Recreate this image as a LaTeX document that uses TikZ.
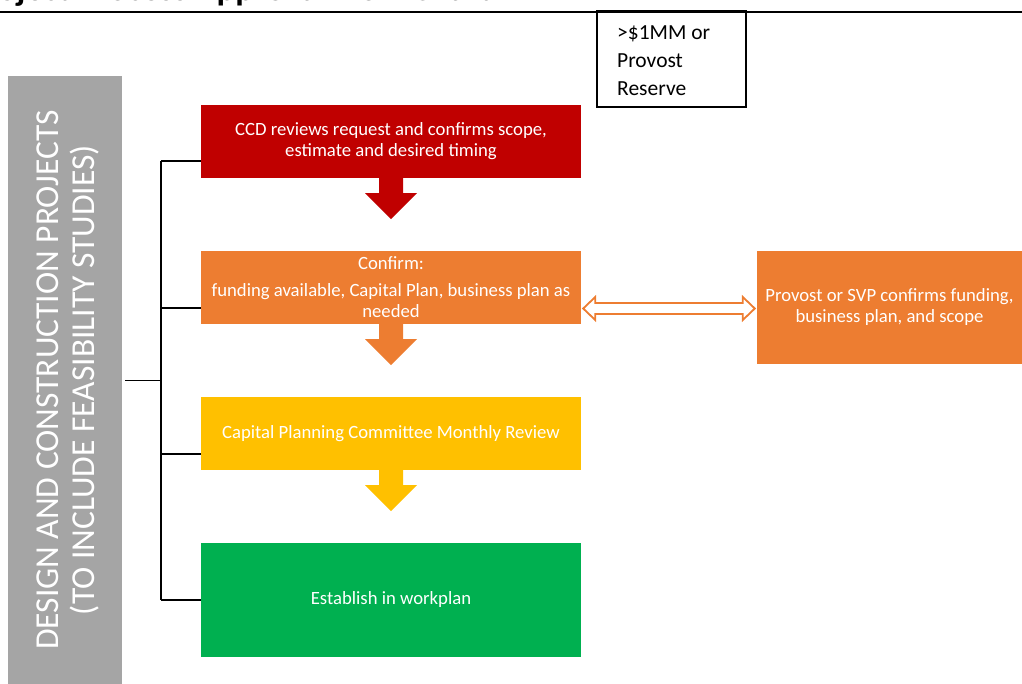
\documentclass[tikz,border=0pt]{standalone}
\usepackage{fontspec}
\setmainfont{Carlito}
\usetikzlibrary{calc}
\definecolor{ccdred}{HTML}{C00000}
\definecolor{orng}{HTML}{ED7D31}
\definecolor{yllw}{HTML}{FFC000}
\definecolor{grn}{HTML}{00B050}
\definecolor{gry}{HTML}{A5A5A5}
\begin{document}
\begin{tikzpicture}[x=1pt,y=-1pt,
  stepbox/.style={inner sep=0pt, minimum width=380pt, text=white, align=center,
    font=\fontsize{18.7}{21}\selectfont},
  link/.style={draw=black, line width=1.4pt},
  blockarrow/.style={fill=#1, draw=none}]
\useasboundingbox (0,0) rectangle (1022,683);
\clip (0,0) rectangle (1022,683);
% title (clipped at top)
\node[anchor=base west, inner sep=0pt, font=\bfseries\fontsize{35}{40}\selectfont] (title) at (-33,0) {Project Process Approval Flow Chart};
\draw[line width=2pt] (0,11.5) coordinate (tl) -- (1022,11.5) coordinate (tr);
% threshold box
\node[draw=black, line width=1.5pt, inner sep=0pt, minimum width=149pt, minimum height=96pt] (thr) at (671.5,59) {};
\node[anchor=west, align=left, inner sep=0pt, font=\fontsize{21.5}{28}\selectfont] (thrtext) at (617,61) {>\$1MM or\\Provost\\Reserve};
% side bar
\node[fill=gry, inner sep=0pt, minimum width=114pt, minimum height=620pt] (side) at (65,386) {};
\node[rotate=90, text=white, align=center, inner sep=0pt, font=\fontsize{33.5}{36}\selectfont] (sidetext) at (68,380) {DESIGN AND CONSTRUCTION PROJECTS\\(TO INCLUDE FEASIBILITY STUDIES)};
% step boxes
\node[stepbox, fill=ccdred, minimum height=73pt] (ccd) at (391,141.5) {CCD reviews request and confirms scope,\\estimate and desired timing};
\node[stepbox, fill=orng, minimum height=73pt] (confirm) at (391,287.5) {Confirm:\\[6pt]funding available, Capital Plan, business plan as\\needed};
\node[stepbox, fill=yllw, minimum height=73pt] (cpc) at (391,433.5) {Capital Planning Committee Monthly Review};
\node[stepbox, fill=grn, minimum height=114pt] (est) at (391,600) {Establish in workplan};
\node[stepbox, fill=orng, minimum width=265pt, minimum height=113pt] (prov) at (889.5,307.5) {Provost or SVP confirms funding,\\business plan, and scope};
% block arrows
\foreach \n/\c in {ccd/ccdred, confirm/orng, cpc/yllw}{
  \path[blockarrow=\c] (\n.south) +(-12,0) -- +(-12,15) -- +(-26,15) -- +(0,41) -- +(26,15) -- +(12,15) -- +(12,0) -- cycle;
}
% double arrow
\coordinate (dl) at ($(confirm.east |- prov.west)+(2,1)$);
\coordinate (dr) at ($(prov.west)+(-2,1)$);
\draw[orng, line width=1.8pt, fill=white, line join=miter]
  (dl) -- ++(12,-11.5) -- ++(0,6) -- ($(dr)+(-12,-5.5)$) -- ++(0,-6) -- (dr)
  -- ++(-12,11.5) -- ++(0,-6) -- ($(dl)+(12,5.5)$) -- ++(0,6) -- cycle;
% bracket
\coordinate (j) at (161,380.5);
\draw[link] ([xshift=3pt]side.east |- j) -- (j);
\draw[link] ($(ccd.west -| j)+(0,19.5)$) -- (est.west -| j);
\draw[link] ($(ccd.west -| j)+(0,19.5)$) -- ($(ccd.west)+(0,19.5)$);
\draw[link] ($(confirm.west -| j)+(0,20.5)$) -- ($(confirm.west)+(0,20.5)$);
\draw[link] ($(cpc.west -| j)+(0,20.5)$) -- ($(cpc.west)+(0,20.5)$);
\draw[link] (est.west -| j) -- (est.west);
\end{tikzpicture}
\end{document}
